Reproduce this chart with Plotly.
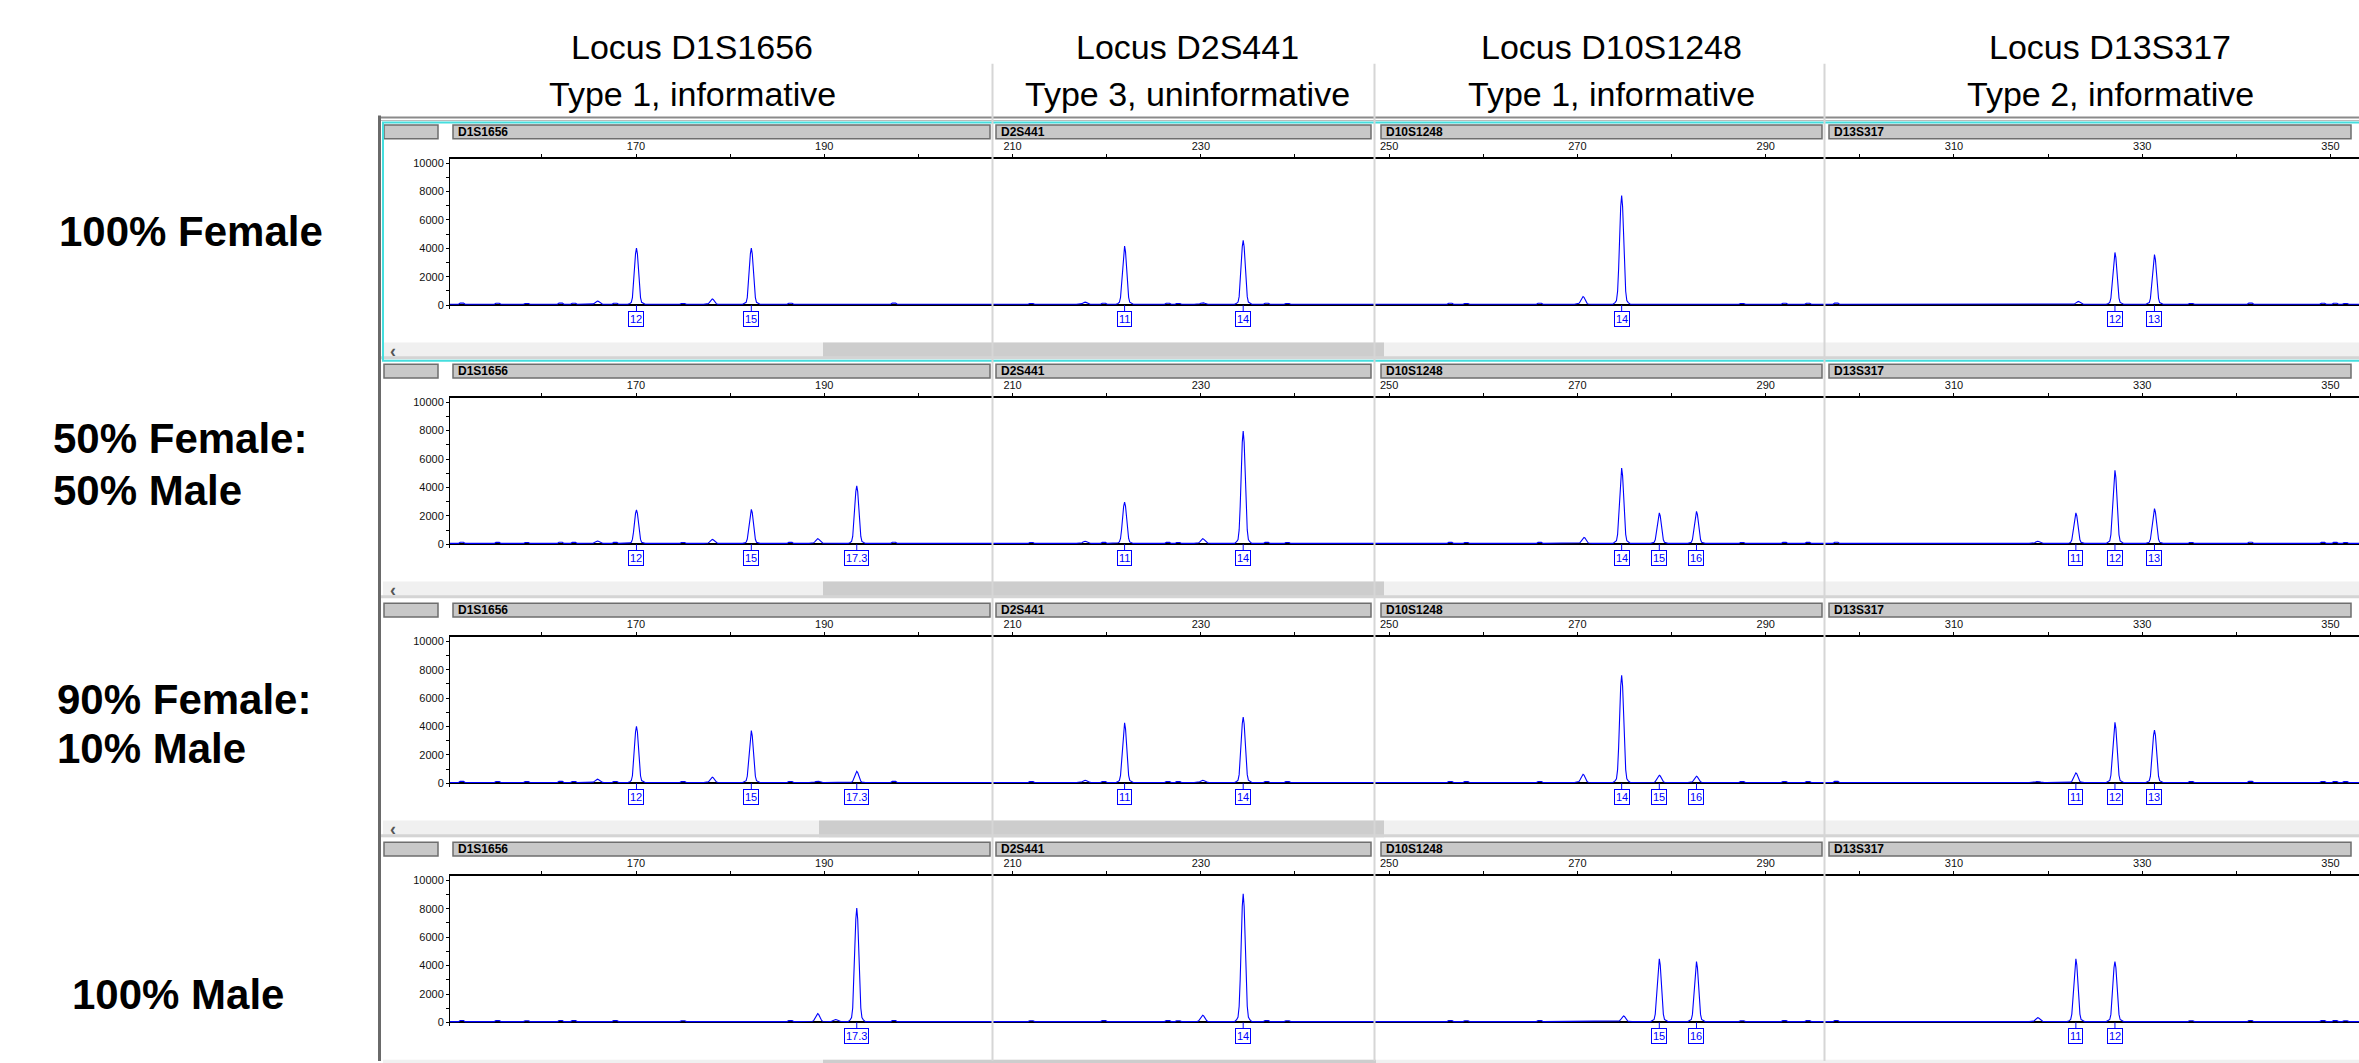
import plotly.graph_objects as go

W, H = 2359, 1063

# ---------------- data ----------------
LOCUS_TITLES = ["Locus D1S1656", "Locus D2S441", "Locus D10S1248", "Locus D13S317"]
LOCUS_TYPES = ["Type 1, informative", "Type 3, uninformative", "Type 1, informative", "Type 2, informative"]
LOCUS_BARS = ["D1S1656", "D2S441", "D10S1248", "D13S317"]
SAMPLE_LABELS = [["100% Female"], ["50% Female:", "50% Male"], ["90% Female:", "10% Male"], ["100% Male"]]

X_TICKS = [160, 170, 180, 190, 200, 210, 220, 230, 240, 250, 260, 270, 280, 290, 300, 310, 320, 330, 340, 350]
X_TICK_LABELS = ["", "170", "", "190", "", "210", "", "230", "", "250", "", "270", "", "290", "", "310", "", "330", "", "350"]
Y_TICKS = [0, 1000, 2000, 3000, 4000, 5000, 6000, 7000, 8000, 9000, 10000]
Y_TICK_LABELS = ["0", "", "2000", "", "4000", "", "6000", "", "8000", "", "10000"]

# called alleles (size in bp, height in RFU, allele name) per sample row
R1_BP = [170.05, 182.25, 221.9, 234.5, 274.7, 327.1, 331.3]
R1_RFU = [3950, 3950, 4100, 4500, 7650, 3650, 3500]
R1_ALLELE = ["12", "15", "11", "14", "14", "12", "13"]

R2_BP = [170.05, 182.25, 193.45, 221.9, 234.5, 274.7, 278.7, 282.65, 322.95, 327.1, 331.3]
R2_RFU = [2350, 2400, 4050, 2900, 7900, 5300, 2150, 2250, 2150, 5150, 2450]
R2_ALLELE = ["12", "15", "17.3", "11", "14", "14", "15", "16", "11", "12", "13"]

R3_BP = [170.05, 182.25, 193.45, 221.9, 234.5, 274.7, 278.7, 282.65, 322.95, 327.1, 331.3]
R3_RFU = [3950, 3650, 780, 4200, 4600, 7550, 510, 440, 680, 4230, 3690]
R3_ALLELE = ["12", "15", "17.3", "11", "14", "14", "15", "16", "11", "12", "13"]

R4_BP = [193.45, 234.5, 278.7, 282.65, 322.95, 327.1]
R4_RFU = [8000, 9000, 4420, 4220, 4420, 4220]
R4_ALLELE = ["17.3", "14", "15", "16", "11", "12"]

# unlabelled stutter / artefact peaks
R1_MINOR_BP = [165.9, 178.1, 217.7, 230.2, 270.6, 323.2]
R1_MINOR_RFU = [230, 380, 150, 110, 550, 200]
R2_MINOR_BP = [165.9, 178.1, 189.3, 217.7, 230.2, 270.7, 318.9]
R2_MINOR_RFU = [170, 280, 330, 150, 330, 420, 150]
R3_MINOR_BP = [165.9, 178.1, 189.3, 217.7, 230.2, 270.6, 318.9]
R3_MINOR_RFU = [230, 370, 100, 150, 150, 580, 80]
R4_MINOR_BP = [189.3, 191.2, 230.2, 274.9, 318.9]
R4_MINOR_RFU = [560, 150, 450, 400, 280]

# tiny baseline blips
NOISE_BP = [151.5, 155.3, 158.4, 162.0, 163.4, 167.8, 175.0, 186.4, 197.4, 212.0, 219.7, 226.5,
            227.6, 237.0, 239.2, 256.5, 258.2, 266.0, 287.5, 292.0, 294.5, 297.5, 335.2, 341.5,
            349.2, 350.5, 351.6]
NOISE_RFU = [80, 70, 60, 80, 70, 70, 60, 70, 80, 60, 70, 70, 60, 70, 60, 70, 60, 70, 60, 70, 70, 80,
             60, 80, 70, 70, 60]

ROWS = [
    (R1_BP, R1_RFU, R1_ALLELE, R1_MINOR_BP, R1_MINOR_RFU),
    (R2_BP, R2_RFU, R2_ALLELE, R2_MINOR_BP, R2_MINOR_RFU),
    (R3_BP, R3_RFU, R3_ALLELE, R3_MINOR_BP, R3_MINOR_RFU),
    (R4_BP, R4_RFU, R4_ALLELE, R4_MINOR_BP, R4_MINOR_RFU),
]

# ---------------- styling / geometry ----------------
PEAK_DX = [-0.92, -0.7, -0.55, -0.43, -0.32, -0.21, -0.1, 0.0, 0.1, 0.21, 0.32, 0.43, 0.55, 0.7, 0.92]
PEAK_FR = [0.0, 0.015, 0.035, 0.12, 0.33, 0.64, 0.9, 1.0, 0.9, 0.64, 0.33, 0.12, 0.035, 0.015, 0.0]
NOISE_DX = [-0.35, -0.18, 0.18, 0.35]
NOISE_FR = [0.0, 1.0, 1.0, 0.0]
BASELINE = 60

PX_PER_BP = 9.414
AXIS_X_PX = 450
BP_LEFT = 170 - (636 - AXIS_X_PX) / PX_PER_BP
BP_RIGHT = BP_LEFT + (W - AXIS_X_PX) / PX_PER_BP
PX_PER_RFU = 142.6 / 10000
Y_MIN, Y_MAX = -250, 10310
ROW_PITCH = 240
BASE0 = 304.3

FONT = "Liberation Sans, Arial, Helvetica, sans-serif"
BLUE = "#0000ff"


def X(px):
    return px / W


def Y(py):
    return 1 - py / H


fig = go.Figure()
shapes = []
annotations = []
layout = dict(width=W, height=H, margin=dict(l=0, r=0, t=0, b=0), paper_bgcolor="white",
              plot_bgcolor="rgba(0,0,0,0)", showlegend=False, hovermode=False)

# titles
TITLE_CX = [692, 1187, 1611, 2110]
for cx, t1, t2 in zip(TITLE_CX, LOCUS_TITLES, LOCUS_TYPES):
    annotations.append(dict(x=X(cx), y=Y(45), xref="paper", yref="paper", text=t1, showarrow=False,
                            xanchor="center", yanchor="middle", font=dict(family=FONT, size=34, color="black")))
    annotations.append(dict(x=X(cx), y=Y(92), xref="paper", yref="paper", text=t2, showarrow=False,
                            xanchor="center", yanchor="middle", font=dict(family=FONT, size=34, color="black")))

# sample labels
LABEL_POS = [(57, [230]), (51, [438, 490]), (55, [700, 749]), (70, [996])]
for (lx, ys), lines in zip(LABEL_POS, SAMPLE_LABELS):
    for yy, txt in zip(ys, lines):
        annotations.append(dict(x=X(lx), y=Y(yy), xref="paper", yref="paper", text="<b>%s</b>" % txt,
                                showarrow=False, xanchor="left", yanchor="middle",
                                font=dict(family=FONT, size=42, color="black")))

# outer frame
shapes.append(dict(type="line", xref="paper", yref="paper", x0=X(378), x1=1, y0=Y(116), y1=Y(116),
                   line=dict(color="#8a8a8a", width=2), layer="below"))
shapes.append(dict(type="line", xref="paper", yref="paper", x0=X(378), x1=1, y0=Y(119), y1=Y(119),
                   line=dict(color="#b8b8b8", width=1), layer="below"))
shapes.append(dict(type="line", xref="paper", yref="paper", x0=X(379.5), x1=X(379.5), y0=Y(114), y1=0,
                   line=dict(color="#6a6a6a", width=3), layer="below"))

BAR_SPANS = [(453, 990), (996, 1371), (1381, 1822), (1829, 2351)]
THUMBS = [(823, 1384), (823, 1384), (819, 1384), (823, 1376)]

for k, (bp, rfu, alle, mbp, mrfu) in enumerate(ROWS):
    n = k + 1
    off = ROW_PITCH * k
    base = BASE0 + off
    top_px = base - Y_MAX * PX_PER_RFU
    bot_px = base - Y_MIN * PX_PER_RFU
    xa = "xaxis" if n == 1 else "xaxis%d" % n
    ya = "yaxis" if n == 1 else "yaxis%d" % n
    layout[xa] = dict(domain=[X(AXIS_X_PX), 1], range=[BP_LEFT, BP_RIGHT], anchor="y%d" % n, side="top",
                      showline=True, linecolor="black", linewidth=1.5, ticks="outside", ticklen=3,
                      tickwidth=1, tickcolor="black", tickvals=X_TICKS, ticktext=X_TICK_LABELS,
                      tickfont=dict(family=FONT, size=11, color="#111"), showgrid=False, zeroline=False,
                      fixedrange=True)
    layout[ya] = dict(domain=[Y(bot_px), Y(top_px)], range=[Y_MIN, Y_MAX], anchor="x%d" % n,
                      showline=True, linecolor="black", linewidth=1, ticks="outside", ticklen=3,
                      tickwidth=1, tickcolor="black", tickvals=Y_TICKS, ticktext=Y_TICK_LABELS,
                      tickfont=dict(family=FONT, size=11, color="#111"), showgrid=False,
                      zeroline=True, zerolinecolor="black", zerolinewidth=2, fixedrange=True)

    # electropherogram trace
    events = []
    for p, h in zip(bp, rfu):
        events.append((p, h, PEAK_DX, PEAK_FR))
    for p, h in zip(mbp, mrfu):
        events.append((p, h, PEAK_DX, PEAK_FR))
    for p, h in zip(NOISE_BP, NOISE_RFU):
        events.append((p, h, NOISE_DX, NOISE_FR))
    events.sort(key=lambda e: e[0])
    xs, ys = [BP_LEFT], [BASELINE]
    for p, h, dxs, frs in events:
        for d, f in zip(dxs, frs):
            xs.append(p + d)
            ys.append(BASELINE + h * f)
    xs.append(BP_RIGHT)
    ys.append(BASELINE)
    fig.add_trace(go.Scatter(x=xs, y=ys, mode="lines", line=dict(color=BLUE, width=1.1),
                             xaxis="x%d" % n, yaxis="y%d" % n, hoverinfo="skip"))

    # allele labels
    for p, a in zip(bp, alle):
        annotations.append(dict(x=p, y=0, xref="x%d" % n, yref="y%d" % n, text=a, showarrow=True,
                                arrowhead=0, arrowwidth=1, arrowcolor=BLUE, ax=0, ay=14, standoff=0,
                                font=dict(family=FONT, size=11, color=BLUE), bordercolor=BLUE,
                                borderwidth=1, borderpad=1, bgcolor="white"))

    # header bars
    hy0, hy1 = 123.5 + off, 137.3 + off
    shapes.append(dict(type="rect", xref="paper", yref="paper", x0=X(384), x1=X(438), y0=Y(hy1), y1=Y(hy0),
                       fillcolor="#c8c8c8", line=dict(color="#6e6e6e", width=1.5), layer="below"))
    for (bx0, bx1), name in zip(BAR_SPANS, LOCUS_BARS):
        shapes.append(dict(type="rect", xref="paper", yref="paper", x0=X(bx0), x1=X(bx1), y0=Y(hy1),
                           y1=Y(hy0), fillcolor="#c8c8c8", line=dict(color="#6e6e6e", width=1.5),
                           layer="below"))
        annotations.append(dict(x=X(bx0 + 3), y=Y((hy0 + hy1) / 2), xref="paper", yref="paper",
                                text="<b>%s</b>" % name, showarrow=False, xanchor="left", yanchor="middle",
                                font=dict(family=FONT, size=12, color="black")))

    # scrollbar
    sy0, sy1 = 341.7 + off, 358.3 + off
    shapes.append(dict(type="rect", xref="paper", yref="paper", x0=X(383), x1=1, y0=Y(sy1), y1=Y(sy0),
                       fillcolor="#f0f0f0", line=dict(width=0), layer="below"))
    tx0, tx1 = THUMBS[k]
    shapes.append(dict(type="rect", xref="paper", yref="paper", x0=X(tx0), x1=X(tx1), y0=Y(sy1), y1=Y(sy0),
                       fillcolor="#cdcdcd", line=dict(width=0), layer="below"))
    if k < 3:
        annotations.append(dict(x=X(393), y=Y((sy0 + sy1) / 2), xref="paper", yref="paper", text="<b>‹</b>",
                                showarrow=False, xanchor="center", yanchor="middle",
                                font=dict(family=FONT, size=18, color="#555")))
    # row separator
    if k > 0:
        shapes.append(dict(type="rect", xref="paper", yref="paper", x0=X(381), x1=1, y0=Y(121.5 + off - 3),
                           y1=Y(121.5 + off - 6), fillcolor="#d4d4d4", line=dict(width=0), layer="below"))

# selected panel (cyan)
shapes.append(dict(type="rect", xref="paper", yref="paper", x0=X(383), x1=X(W + 5), y0=Y(360), y1=Y(121),
                   fillcolor="rgba(0,0,0,0)", line=dict(color="#45dede", width=2), layer="above"))

# locus separators
for sx in [992.5, 1374.5, 1824.5]:
    shapes.append(dict(type="line", xref="paper", yref="paper", x0=X(sx), x1=X(sx), y0=Y(62), y1=0,
                       line=dict(color="#d6d6d6", width=2), layer="above"))

layout["shapes"] = shapes
layout["annotations"] = annotations
fig.update_layout(**layout)
fig.write_html("out.html")
